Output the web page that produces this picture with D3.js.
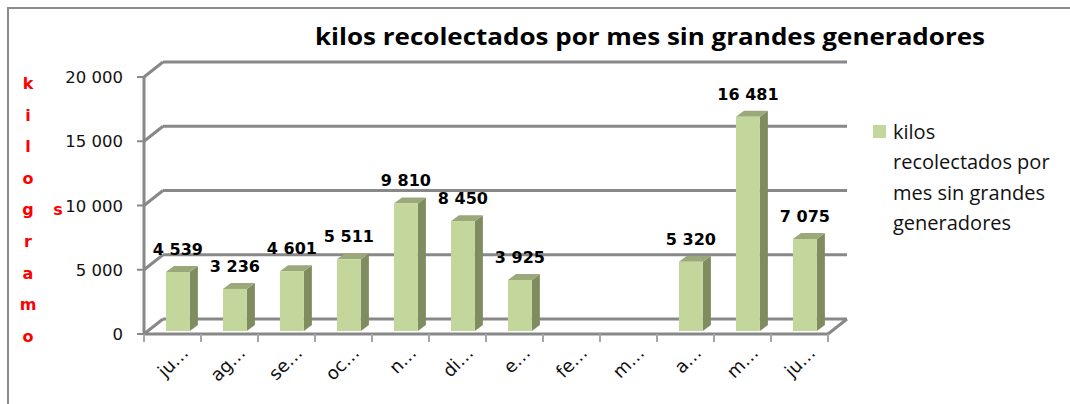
<!DOCTYPE html>
<html lang="es">
<head>
<meta charset="UTF-8">
<title>kilos recolectados</title>
<style>
  body { margin: 0; background: #fff; }
  svg { display: block; }
  .tick-label { font-family: "DejaVu Sans", sans-serif; font-size: 16.5px; fill: #111; }
  .bar-label { font-family: "DejaVu Sans", sans-serif; font-size: 16px; font-weight: bold; fill: #000; }
  .cat-label { font-family: "DejaVu Sans", sans-serif; font-size: 18px; fill: #111; }
  .y-title { font-family: "DejaVu Sans", sans-serif; font-size: 16px; font-weight: bold; fill: #ff0000; }
  .legend-text { font-family: "Open Sans", sans-serif; font-size: 20px; fill: #111; }
</style>
</head>
<body>
<svg id="chart" width="1070" height="404"></svg>
<script src="https://d3js.org/d3.v7.min.js"></script>
<script>
// datos
const meses = ["ju…", "ag…", "se…", "oc…", "n…", "di…", "e…", "fe…", "m…", "a…", "m…", "ju…"];
const kilos = [4539, 3236, 4601, 5511, 9810, 8450, 3925, null, null, 5320, 16481, 7075];
const ticksY = [0, 5000, 10000, 15000, 20000];
const titulo = "kilos recolectados por mes sin grandes generadores";
const tituloEje = "kilogramos";
const leyenda = ["kilos", "recolectados por", "mes sin grandes", "generadores"];

const width = 1070, height = 404;
const svg = d3.select("#chart");

// profundidad del 3D (pared del fondo)
const depth = { dx: 19, dy: -15 };
const barDepth = { dx: 8, dy: -6 };
const grid = "#888888";
const fmt = v => d3.format(",")(v).replace(/,/g, " ");

const x = d3.scaleBand()
    .domain(d3.range(meses.length))
    .range([144, 828]);

const yFront = d3.scaleLinear().domain([0, 20000]).range([334, 77]);
const yBar = d3.scaleLinear().domain([0, 20000]).range([331, 71]);

// borde exterior
svg.append("rect")
    .attr("x", 8).attr("y", 8)
    .attr("width", 1100).attr("height", 440)
    .attr("fill", "none").attr("stroke", "#8c8c8c").attr("stroke-width", 2);

// titulo
svg.append("text")
    .attr("x", 315).attr("y", 45)
    .attr("textLength", 670).attr("lengthAdjust", "spacingAndGlyphs")
    .style("font-family", "'Open Sans', sans-serif")
    .style("font-size", "24px").style("font-weight", "bold")
    .text(titulo);

// lineas de cuadricula (pared del fondo) + diagonales
const g = svg.append("g");
ticksY.forEach(t => {
    const yf = yFront(t);
    g.append("line")
        .attr("x1", 144 + depth.dx).attr("y1", yf + depth.dy)
        .attr("x2", x.range()[1] + depth.dx).attr("y2", yf + depth.dy)
        .attr("stroke", grid).attr("stroke-width", 3);
    g.append("line")
        .attr("x1", 144).attr("y1", yf)
        .attr("x2", 144 + depth.dx).attr("y2", yf + depth.dy)
        .attr("stroke", grid).attr("stroke-width", 3);
    g.append("line")
        .attr("x1", 137).attr("y1", yf)
        .attr("x2", 144).attr("y2", yf)
        .attr("stroke", grid).attr("stroke-width", 2);
    g.append("text")
        .attr("class", "tick-label")
        .attr("x", 123).attr("y", yf + 6)
        .attr("text-anchor", "end")
        .text(fmt(t));
});

// suelo
const x0 = x.range()[0], x1 = x.range()[1], y0 = yFront(0);
g.append("line")
    .attr("x1", x0).attr("y1", y0).attr("x2", x1).attr("y2", y0)
    .attr("stroke", grid).attr("stroke-width", 3);
g.append("line")
    .attr("x1", x1).attr("y1", y0).attr("x2", x1 + depth.dx).attr("y2", y0 + depth.dy)
    .attr("stroke", grid).attr("stroke-width", 3);
// eje vertical
g.append("line")
    .attr("x1", x0).attr("y1", yFront(20000)).attr("x2", x0).attr("y2", y0)
    .attr("stroke", grid).attr("stroke-width", 3);

// marcas del eje x
d3.range(meses.length + 1).forEach(i => {
    const xt = i < meses.length ? x(i) : x1;
    g.append("line")
        .attr("x1", xt).attr("y1", y0).attr("x2", xt).attr("y2", y0 + 8)
        .attr("stroke", "#a6a6a6").attr("stroke-width", 2);
});

// barras 3D
const bw = x.bandwidth() * 0.42;
const boff = x.bandwidth() * 0.385;
const datos = kilos.map((v, i) => ({ i, v })).filter(d => d.v != null);

const bars = svg.append("g").selectAll("g").data(datos).join("g");

bars.append("polygon") // lado
    .attr("points", d => {
        const l = x(d.i) + boff + bw, t = yBar(d.v), b = yBar(0);
        return [[l, t], [l + barDepth.dx, t + barDepth.dy], [l + barDepth.dx, b + barDepth.dy], [l, b]].join(" ");
    })
    .attr("fill", "#7f8c5f");

bars.append("polygon") // tapa
    .attr("points", d => {
        const l = x(d.i) + boff, t = yBar(d.v);
        return [[l, t], [l + barDepth.dx, t + barDepth.dy], [l + bw + barDepth.dx, t + barDepth.dy], [l + bw, t]].join(" ");
    })
    .attr("fill", "#9ba97a");

bars.append("rect") // frente
    .attr("x", d => x(d.i) + boff)
    .attr("y", d => yBar(d.v))
    .attr("width", bw)
    .attr("height", d => yBar(0) - yBar(d.v))
    .attr("fill", "#c3d69b");

bars.append("text")
    .attr("class", "bar-label")
    .attr("x", d => x(d.i) + boff + bw / 2)
    .attr("y", d => yBar(d.v) - 17)
    .attr("text-anchor", "middle")
    .text(d => fmt(d.v));

// etiquetas de categoria
svg.append("g").selectAll("text").data(meses).join("text")
    .attr("class", "cat-label")
    .attr("text-anchor", "end")
    .attr("transform", (d, i) => `translate(${x(i) + x.bandwidth() / 2 + 17},${354}) rotate(-45)`)
    .text(d => d);

// titulo del eje Y (letras en rojo)
const letras = tituloEje.split("");
letras.forEach((c, k) => {
    const col = k < 9 ? 0 : 1;
    svg.append("text")
        .attr("class", "y-title")
        .attr("text-anchor", "middle")
        .attr("x", col === 0 ? 28 : 58)
        .attr("y", col === 0 ? 89 + k * 31.6 : 215)
        .text(c);
});

// leyenda
svg.append("rect")
    .attr("x", 873).attr("y", 125).attr("width", 13).attr("height", 13)
    .attr("fill", "#c3d69b");
svg.append("g").selectAll("text").data(leyenda).join("text")
    .attr("class", "legend-text")
    .attr("x", 893)
    .attr("y", (d, i) => 139 + i * 30.3)
    .text(d => d);
</script>
</body>
</html>
